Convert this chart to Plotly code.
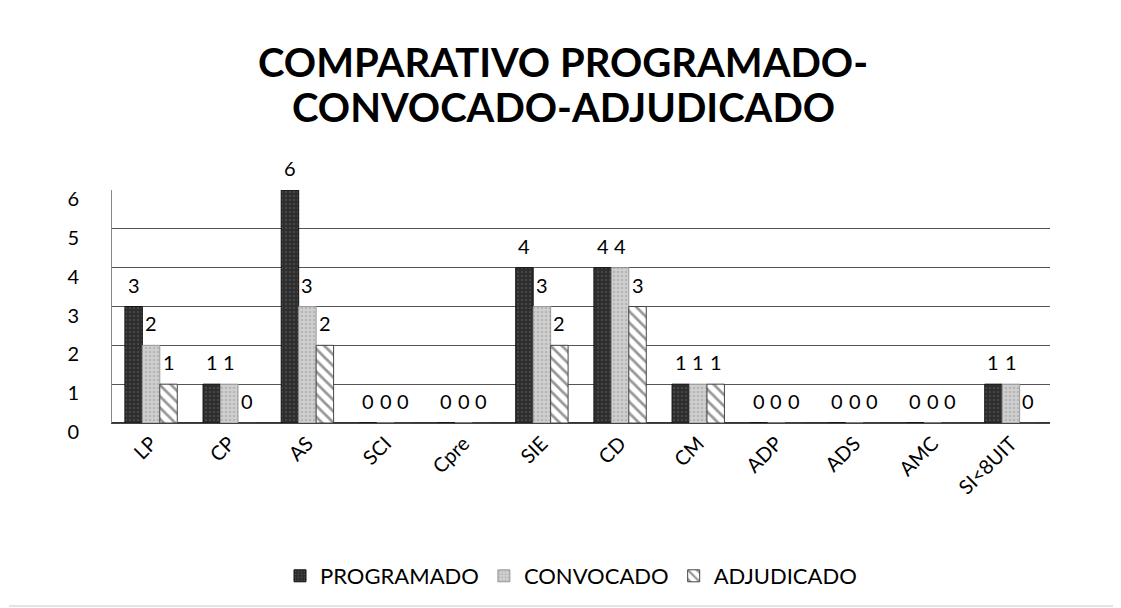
import plotly.graph_objects as go

categories = ["LP", "CP", "AS", "SCI", "Cpre", "SIE", "CD", "CM", "ADP", "ADS", "AMC", "SI<8UIT"]
programado = [3, 1, 6, 0, 0, 4, 4, 1, 0, 0, 0, 1]
convocado = [2, 1, 3, 0, 0, 3, 4, 1, 0, 0, 0, 1]
adjudicado = [1, 0, 2, 0, 0, 2, 3, 1, 0, 0, 0, 0]
y_ticks = [0, 1, 2, 3, 4, 5, 6]
title_lines = ["COMPARATIVO PROGRAMADO-", "CONVOCADO-ADJUDICADO"]

FONT = "Lato"
OFF = 8  # default page body margin in the browser
W, H = 1121 - OFF, 608 - OFF
PL, PR, PT, PB = 112, 1050, 190, 423  # plot area in screenshot pixels
pw, ph = PR - PL, PB - PT


def px(x):
    return (x - PL) / pw


def py(y):
    return (PB - y) / ph


fig = go.Figure()
series = [
    ("PROGRAMADO", programado,
     dict(color="#2e2e2e", line=dict(color="#111", width=1),
          pattern=dict(shape=".", fgcolor="#707070", size=4, solidity=0.2))),
    ("CONVOCADO", convocado,
     dict(color="#cfcfcf", line=dict(color="#999", width=1),
          pattern=dict(shape=".", fgcolor="#999", size=4, solidity=0.3))),
    ("ADJUDICADO", adjudicado,
     dict(color="white", line=dict(color="#444", width=1),
          pattern=dict(shape="\\", fgcolor="#333", size=8, solidity=0.35))),
]
for name, vals, marker in series:
    fig.add_bar(name=name, x=categories, y=vals, marker=marker)

# data labels (sit a little above each bar top, as in the 3-D original)
bar_px = pw / len(categories) * 0.67 / 3
for k, (name, vals, _) in enumerate(series):
    for c, v in zip(categories, vals):
        fig.add_annotation(x=c, y=v, xref="x", yref="y", text=str(v), showarrow=False,
                           xshift=(k - 1) * bar_px, yshift=22,
                           font=dict(family=FONT, size=20, color="black"))

fig.update_layout(
    width=W, height=H,
    paper_bgcolor="white", plot_bgcolor="white",
    margin=dict(l=PL - OFF, r=W - (PR - OFF), t=PT - OFF, b=H - (PB - OFF), autoexpand=False),
    barmode="group", bargap=0.33, bargroupgap=0,
    font=dict(family=FONT, size=20, color="black"),
    legend=dict(orientation="h", x=px(571), xanchor="center", y=py(576), yanchor="middle",
                font=dict(family=FONT, size=22), traceorder="normal", itemwidth=30),
    showlegend=True,
)
for i, line in enumerate(title_lines):
    fig.add_annotation(text="<b>%s</b>" % line, xref="paper", yref="paper",
                       x=px(563), y=py(62 + 45 * i),
                       xanchor="center", yanchor="middle", showarrow=False,
                       font=dict(family=FONT, size=40, color="black"))
fig.update_yaxes(range=[0, 6], tickvals=y_ticks, showgrid=True, gridcolor="#555", gridwidth=1,
                 showline=True, linecolor="#888", linewidth=1, zeroline=True, zerolinecolor="#333",
                 ticks="", tickfont=dict(size=20), ticklabelstandoff=28, ticklabelshift=9,
                 automargin=False)
fig.update_xaxes(tickangle=-45, showline=True, linecolor="#444", linewidth=1,
                 tickfont=dict(size=20), ticks="", automargin=False)
# faint page border (right and bottom edges)
fig.add_shape(type="line", xref="paper", yref="paper", x0=px(1118), x1=px(1118), y0=py(606), y1=py(9),
              line=dict(color="#c8c8c8", width=1))
fig.add_shape(type="line", xref="paper", yref="paper", x0=px(9), x1=px(1118), y0=py(606), y1=py(606),
              line=dict(color="#c8c8c8", width=1))

fig.write_html("out.html")
